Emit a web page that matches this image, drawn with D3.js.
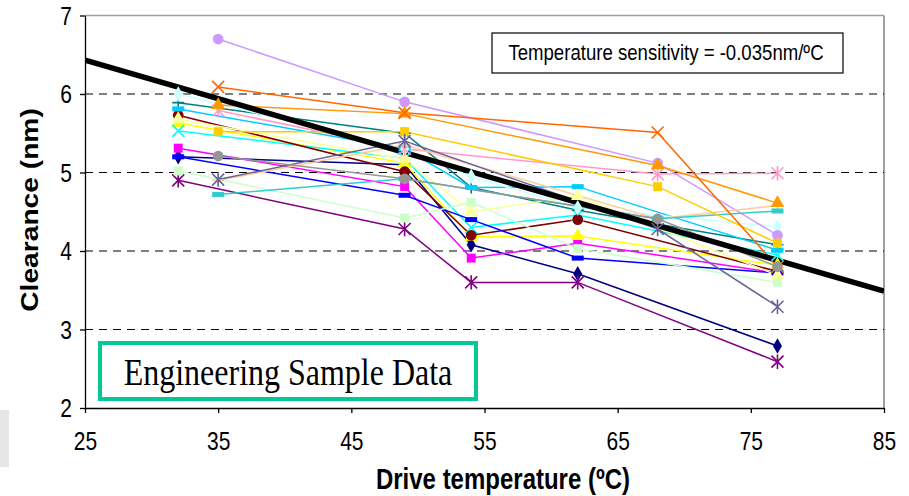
<!DOCTYPE html>
<html>
<head>
<meta charset="utf-8">
<script src="https://cdn.jsdelivr.net/npm/d3@7"></script>
<style>
  body { margin: 0; background: #fff; }
  svg { display: block; }
</style>
</head>
<body>
<svg id="chart" width="909" height="496"></svg>
<script>
// temperatures: group A runs at 32..77, group B at 35..77
const tempsA = [32, 49, 54, 62, 77]
const tempsB = [35, 49, 68, 77]

// clearance (nm) per head
const navy = [5.2, 5.1, 4.08, 3.71, 2.79]
const magenta = [5.31, 4.82, 3.91, 4.1, 3.72]
const yellow = [5.63, 5.12, 4.18, 4.19, 3.82]
const cyan = [5.53, 5.18, 4.3, 4.46, 3.95]
const purple = [4.9, 4.28, 3.6, 3.6, 2.59]
const maroon = [5.73, 5.01, 4.2, 4.4, 3.74]
const teal = [5.89, 5.5, 4.81, 4.52, 4.08]
const blue = [5.2, 4.71, 4.4, 3.91, 3.72]
const skyblue = [5.81, 5.3, 4.81, 4.82, 4.01]
const lightcyan = [6.0, 5.3, 4.95, 4.55, 4.31]
const lightgreen = [5.02, 4.42, 4.62, 4.03, 3.6]
const lightyellow = [5.68, 5.17, 4.5, 4.7, 3.69]

const pink = [5.79, 5.3, 4.98, 4.99]
const lavender = [6.7, 5.9, 5.12, 4.2]
const peach = [4.9, 5.35, 4.41, 4.58]
const turquoise = [4.72, 4.92, 4.41, 4.51]
const gold = [5.52, 5.52, 4.82, 4.1]
const orange = [5.86, 5.75, 5.09, 4.61]
const orangered = [6.09, 5.76, 5.51, 3.8]
const slate = [4.91, 5.4, 4.28, 3.29]
const gray = [5.21, 4.92, 4.41, 3.8]

// linear fit drawn across the whole axis
const trendX = [25, 85]
const trendY = [6.43, 3.49]

const xTicks = [25, 35, 45, 55, 65, 75, 85]
const yTicks = [2, 3, 4, 5, 6, 7]

// series: values, temps, colour, marker
const series = [
  [navy, tempsA, "#000080", "diamond"],
  [magenta, tempsA, "#ff00ff", "square"],
  [yellow, tempsA, "#ffff00", "triangle"],
  [cyan, tempsA, "#00ffff", "x"],
  [purple, tempsA, "#800080", "star"],
  [maroon, tempsA, "#800000", "circle"],
  [teal, tempsA, "#008080", "plus"],
  [blue, tempsA, "#0000ff", "dash"],
  [skyblue, tempsA, "#00ccff", "dash"],
  [lightcyan, tempsA, "#ccffff", "diamond"],
  [lightgreen, tempsA, "#ccffcc", "square"],
  [lightyellow, tempsA, "#ffff99", "triangle"],
  [pink, tempsB, "#ff99cc", "star"],
  [lavender, tempsB, "#cc99ff", "circle"],
  [peach, tempsB, "#ffcc99", "plus"],
  [turquoise, tempsB, "#33cccc", "dash"],
  [gold, tempsB, "#ffcc00", "square"],
  [orange, tempsB, "#ff9900", "triangle"],
  [orangered, tempsB, "#ff6600", "x"],
  [slate, tempsB, "#666699", "star"],
  [gray, tempsB, "#969696", "circle"]
]

const svg = d3.select("#chart")
const mLeft = 85, mRight = 884, mTop = 15.5, mBottom = 408
const K = 1.2 // text in the picture is a bit taller than wide

const x = d3.scaleLinear().domain([25, 85]).range([mLeft, mRight])
const y = d3.scaleLinear().domain([2, 7]).range([mBottom, mTop])

// little grey block bottom-left
svg.append("rect").attr("x", 0).attr("y", 410).attr("width", 9).attr("height", 57).attr("fill", "#e6e6e6")

// frame
svg.append("line").attr("x1", mLeft).attr("x2", mRight).attr("y1", mTop).attr("y2", mTop)
  .attr("stroke", "#a0a0a0").attr("stroke-width", 1.5)
svg.append("line").attr("x1", mRight).attr("x2", mRight).attr("y1", mTop).attr("y2", mBottom)
  .attr("stroke", "#a0a0a0").attr("stroke-width", 2)

// gridlines
svg.append("g").selectAll("line")
  .data(yTicks.filter(d => d > 2 && d < 7))
  .join("line")
  .attr("x1", mLeft).attr("x2", mRight)
  .attr("y1", d => y(d)).attr("y2", d => y(d))
  .attr("stroke", "#000").attr("stroke-width", 1)
  .attr("stroke-dasharray", "8,6")

// axes
const gy = svg.append("g").attr("transform", `translate(${mLeft},0)`)
  .call(d3.axisLeft(y).tickValues(yTicks).tickSize(5).tickSizeOuter(0).tickFormat(d3.format("d")))
const gx = svg.append("g").attr("transform", `translate(0,${mBottom})`)
  .call(d3.axisBottom(x).tickValues(xTicks).tickSize(5).tickSizeOuter(0).tickFormat(d3.format("d")))

for (const g of [gx, gy]) {
  g.select(".domain").attr("stroke", "#000").attr("stroke-width", 1.3)
  g.selectAll(".tick line").attr("stroke", "#000").attr("stroke-width", 1.3)
  g.selectAll(".tick text").attr("font-family", "Liberation Sans, Arial, sans-serif")
    .attr("font-size", 21).attr("fill", "#000")
}
gy.selectAll(".tick text").attr("x", -13).attr("dy", null)
  .attr("transform", `scale(1,${K})`).attr("dominant-baseline", "central")
gx.selectAll(".tick text").attr("y", 0).attr("dy", null)
  .attr("transform", `translate(0,42) scale(1,${K})`)

// series lines
const line = d3.line().x(d => x(d[0])).y(d => y(d[1]))
const gs = svg.append("g")
series.forEach(([vals, temps, color]) => {
  gs.append("path")
    .attr("d", line(temps.map((t, i) => [t, vals[i]])))
    .attr("fill", "none").attr("stroke", color).attr("stroke-width", 1.5)
})

// trend line
svg.append("clipPath").attr("id", "plot").append("rect")
  .attr("x", mLeft).attr("y", mTop).attr("width", mRight - mLeft).attr("height", mBottom - mTop)
svg.append("path")
  .attr("clip-path", "url(#plot)")
  .attr("d", line(trendX.map((t, i) => [t, trendY[i]])))
  .attr("stroke", "#000").attr("stroke-width", 5.5).attr("fill", "none")

// markers
const gm = svg.append("g")
function marker(g, kind, cx, cy, color) {
  if (kind === "diamond" || kind === "square" || kind === "triangle" || kind === "circle") {
    const type = { diamond: d3.symbolDiamond, square: d3.symbolSquare, triangle: d3.symbolTriangle, circle: d3.symbolCircle }[kind]
    const size = { diamond: 70, square: 80, triangle: 80, circle: 90 }[kind]
    g.append("path").attr("d", d3.symbol(type, size)()).attr("transform", `translate(${cx},${cy})`)
      .attr("fill", color)
  } else if (kind === "dash") {
    g.append("rect").attr("x", cx - 6).attr("y", cy - 2.5).attr("width", 12).attr("height", 5).attr("fill", color)
  } else {
    const r = 6
    let d = ""
    if (kind === "x" || kind === "star") d += `M${-r},${-r}L${r},${r}M${-r},${r}L${r},${-r}`
    if (kind === "plus") d += `M${-r},0L${r},0M0,${-r}L0,${r}`
    if (kind === "star") d += `M0,${-r * 1.2}L0,${r * 1.2}`
    g.append("path").attr("d", d).attr("transform", `translate(${cx},${cy})`)
      .attr("stroke", color).attr("stroke-width", 1.6).attr("fill", "none")
  }
}
series.forEach(([vals, temps, color, kind]) => {
  temps.forEach((t, i) => marker(gm, kind, x(t), y(vals[i]), color))
})

// annotation box
svg.append("rect").attr("x", 492).attr("y", 33).attr("width", 351).attr("height", 40)
  .attr("fill", "#fff").attr("stroke", "#000").attr("stroke-width", 1.2)
svg.append("text").attr("transform", `translate(666,60) scale(1,${K})`)
  .attr("text-anchor", "middle").attr("font-family", "Liberation Sans, Arial, sans-serif")
  .attr("font-size", 18.6).text("Temperature sensitivity = -0.035nm/ºC")

// sample box
svg.append("rect").attr("x", 100).attr("y", 343).attr("width", 376).attr("height", 56)
  .attr("fill", "#fff").attr("stroke", "#00c896").attr("stroke-width", 4)
svg.append("text").attr("transform", `translate(288,385) scale(1,${K})`)
  .attr("text-anchor", "middle").attr("font-family", "Liberation Serif, Times New Roman, serif")
  .attr("font-size", 32).text("Engineering Sample Data")

// axis titles
svg.append("text").attr("transform", `translate(503,489) scale(1,${K})`)
  .attr("text-anchor", "middle").attr("font-family", "Liberation Sans, Arial, sans-serif")
  .attr("font-weight", "bold").attr("font-size", 24).text("Drive temperature (ºC)")
svg.append("text").attr("transform", `translate(38,210) scale(1,${K}) rotate(-90)`)
  .attr("text-anchor", "middle").attr("font-family", "Liberation Sans, Arial, sans-serif")
  .attr("font-weight", "bold").attr("font-size", 23.5).text("Clearance (nm)")
</script>
</body>
</html>
